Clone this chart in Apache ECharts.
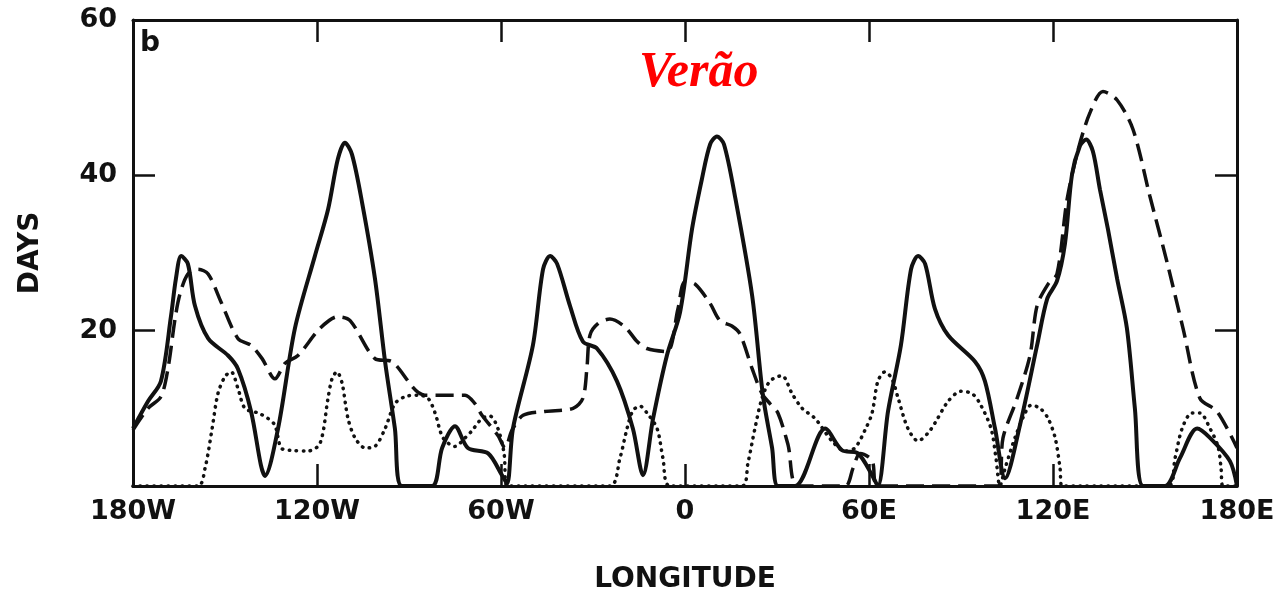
<!DOCTYPE html>
<html>
<head>
<meta charset="utf-8">
<script src="https://cdn.jsdelivr.net/npm/echarts@6/dist/echarts.min.js"></script>
<style>
  html, body { margin: 0; padding: 0; background: #fff; }
  #chart { width: 1280px; height: 599px; }
</style>
</head>
<body>
<div id="chart"></div>
<script>
// Longitude ticks (degrees, negative = west) and their printed labels
const lonTicks = [-180, -120, -60, 0, 60, 120, 180];
const lonLabels = ['180W', '120W', '60W', '0', '60E', '120E', '180E'];
const dayTicks = [0, 20, 40, 60];
const dayLabels = ['', '20', '40', '60'];

// Solid curve: [longitude, days]
const solidCurve = [
  [-180.0, 7.4], [-175.1, 10.9], [-170.9, 13.5], [-167.6, 21.9], [-166.0, 26.7],
  [-164.3, 29.6], [-162.1, 28.6], [-159.8, 23.2], [-155.5, 19.0], [-149.0, 16.8],
  [-145.8, 15.1], [-141.5, 9.6], [-138.3, 2.7], [-137.0, 1.3], [-132.7, 7.4],
  [-127.2, 20.3], [-120.7, 29.6], [-116.4, 35.6], [-113.2, 42.1], [-110.9, 44.2],
  [-108.6, 42.7], [-105.3, 36.5], [-101.1, 26.7], [-97.8, 16.0], [-94.6, 7.4],
  [-92.3, 0], [-82.5, 0], [-79.2, 4.9], [-75.0, 7.7], [-70.8, 4.9],
  [-64.2, 4.2], [-59.7, 1.4], [-58.0, 0.3], [-56.1, 7.4], [-49.6, 18.1],
  [-46.3, 27.9], [-44.0, 29.6], [-41.7, 28.6], [-37.5, 23.2], [-33.3, 18.6],
  [-28.7, 17.7], [-22.2, 13.5], [-17.0, 7.4], [-13.7, 1.4], [-10.4, 8.7],
  [-5.9, 16.8], [-1.6, 22.4], [2.3, 33.1], [5.5, 39.5], [8.2, 44.0],
  [10.4, 45.0], [12.7, 44.0], [16.3, 37.3], [21.9, 24.5], [25.4, 11.7],
  [28.4, 4.9], [30.3, 0], [35.9, 0], [45.7, 7.4], [51.2, 4.6],
  [56.4, 4.2], [61.0, 1.4], [62.9, 0], [66.2, 9.6], [70.4, 18.1],
  [73.7, 27.9], [76.0, 29.6], [78.3, 28.6], [81.5, 22.8], [85.8, 19.4],
  [94.6, 16.0], [97.8, 13.5], [101.1, 7.4], [104.4, 1.0], [109.2, 7.8],
  [114.8, 18.1], [118.1, 24.1], [121.3, 26.4], [123.9, 31.2], [126.2, 40.1],
  [128.8, 43.8], [130.8, 44.6], [133.0, 43.1], [135.3, 38.2], [137.9, 33.1],
  [140.9, 26.7], [144.1, 20.3], [146.7, 10.0], [149.4, 0], [156.5, 0],
  [161.4, 3.6], [167.0, 7.4], [171.2, 6.2], [177.7, 3.2], [180.0, 0]
];

// Dashed curve: [longitude, days]
const dashedCurve = [
  [-180.0, 7.2], [-175.1, 10.0], [-170.9, 11.5], [-168.6, 15.1], [-166.3, 21.5],
  [-164.7, 24.7], [-162.1, 27.3], [-158.8, 27.9], [-155.5, 27.3], [-151.3, 23.7],
  [-145.8, 19.0], [-141.5, 18.1], [-137.9, 16.4], [-133.7, 13.8], [-130.4, 15.8],
  [-126.2, 16.8], [-119.0, 20.3], [-113.2, 21.8], [-109.2, 21.3], [-101.1, 16.4],
  [-95.5, 16.0], [-84.8, 11.7], [-71.7, 11.7], [-68.5, 10.6], [-66.2, 9.1],
  [-61.0, 6.5], [-58.7, 4.9], [-56.4, 7.2], [-52.8, 9.1], [-45.7, 9.6],
  [-36.5, 10.0], [-33.3, 11.3], [-32.0, 15.1], [-31.0, 19.4], [-28.4, 20.9],
  [-24.5, 21.5], [-19.6, 20.5], [-15.6, 18.6], [-12.4, 17.7], [-5.9, 17.3],
  [-2.3, 22.8], [0.0, 26.3], [3.3, 26.0], [8.2, 23.5], [11.4, 21.3],
  [15.3, 20.6], [17.9, 19.6], [21.9, 15.1], [25.1, 11.9], [27.7, 10.6],
  [30.3, 9.4], [33.6, 5.3], [36.8, 0], [52.2, 0], [54.8, 2.3],
  [57.1, 4.2], [61.0, 3.3], [62.9, 0], [102.1, 0], [103.7, 6.2],
  [108.3, 11.3], [112.5, 16.8], [114.8, 23.2], [118.4, 26.0], [121.3, 27.3],
  [124.6, 36.9], [128.2, 43.3], [132.1, 48.1], [136.3, 50.8], [140.9, 49.7],
  [146.1, 45.9], [151.6, 37.3], [157.2, 28.8], [162.4, 20.3], [167.9, 11.3],
  [173.5, 9.6], [180.0, 4.9]
];

// Dotted curve: [longitude, days]
const dottedCurve = [
  [-180.0, 0], [-158.8, 0], [-156.5, 2.3], [-154.2, 7.4], [-152.3, 11.9],
  [-150.0, 14.1], [-148.0, 14.7], [-145.8, 12.6], [-143.5, 10.0], [-139.2, 9.4],
  [-136.0, 8.7], [-133.7, 7.8], [-131.7, 4.9], [-128.8, 4.6], [-122.9, 4.5],
  [-119.0, 5.5], [-116.4, 11.3], [-115.1, 13.8], [-113.5, 14.7], [-111.8, 13.2],
  [-109.9, 8.7], [-107.6, 6.2], [-104.3, 4.9], [-101.1, 5.1], [-97.8, 7.4],
  [-94.6, 10.6], [-91.3, 11.5], [-87.1, 11.7], [-83.8, 11.3], [-81.5, 9.4],
  [-78.9, 6.2], [-75.0, 5.1], [-71.7, 6.2], [-69.5, 7.1], [-66.2, 8.7],
  [-63.6, 9.0], [-61.0, 7.4], [-59.0, 4.2], [-58.0, 0], [-24.5, 0],
  [-21.2, 3.6], [-18.9, 7.4], [-17.0, 9.7], [-14.7, 10.3], [-12.4, 9.4],
  [-9.1, 7.4], [-7.2, 3.6], [-4.9, 0], [18.6, 0], [20.5, 2.9],
  [22.8, 7.4], [25.1, 11.3], [27.7, 13.5], [31.6, 14.2], [34.9, 11.9],
  [38.2, 10.0], [42.4, 8.7], [47.9, 5.8], [52.2, 4.5], [55.4, 4.9],
  [58.7, 7.2], [61.0, 9.4], [62.9, 13.5], [65.2, 14.7], [67.5, 13.8],
  [69.5, 11.3], [72.7, 7.4], [76.0, 5.8], [79.2, 6.8], [81.5, 8.1],
  [85.8, 10.9], [90.0, 12.2], [93.6, 11.9], [96.2, 10.6], [99.8, 7.4],
  [101.4, 3.6], [102.7, 0], [104.4, 2.3], [107.6, 6.2], [110.9, 9.4],
  [112.8, 10.4], [115.8, 10.0], [118.4, 8.7], [120.7, 6.2], [122.3, 2.3],
  [122.9, 0], [157.5, 0], [159.8, 3.6], [162.1, 7.4], [165.3, 9.4],
  [167.9, 9.4], [171.2, 7.4], [173.8, 5.1], [174.8, 2.3], [175.4, 0],
  [180.0, 0]
];

const FONT = 'DejaVu Sans';
const INK = '#111';

// Frame axes sit above the curves so runs along zero merge into the axis line
function lonAxis(position, withLabels) {
  return {
    type: 'value', position: position, z: 5,
    min: lonTicks[0], max: lonTicks[lonTicks.length - 1], interval: 60,
    axisLine: { show: true, onZero: false, lineStyle: { color: INK, width: 3 } },
    axisTick: { show: true, inside: true, length: 22, lineStyle: { color: INK, width: 2.5 } },
    splitLine: { show: false },
    axisLabel: withLabels ? {
      show: true, margin: 12, color: INK,
      fontFamily: FONT, fontWeight: 'bold', fontSize: 27,
      formatter: v => lonLabels[lonTicks.indexOf(v)]
    } : { show: false },
    name: withLabels ? 'LONGITUDE' : '',
    nameLocation: 'middle', nameGap: 80,
    nameTextStyle: { color: INK, fontFamily: FONT, fontWeight: 'bold', fontSize: 28 }
  };
}

function dayAxis(position, withLabels) {
  return {
    type: 'value', position: position, z: 5,
    min: dayTicks[0], max: dayTicks[dayTicks.length - 1], interval: 20,
    axisLine: { show: true, onZero: false, lineStyle: { color: INK, width: 3 } },
    axisTick: { show: true, inside: true, length: 22, lineStyle: { color: INK, width: 2.5 } },
    splitLine: { show: false },
    axisLabel: withLabels ? {
      show: true, margin: 16, color: INK,
      fontFamily: FONT, fontWeight: 'bold', fontSize: 27,
      formatter: v => dayLabels[dayTicks.indexOf(v)]
    } : { show: false },
    name: withLabels ? 'DAYS' : '',
    nameLocation: 'middle', nameGap: 88, nameRotate: 90,
    nameTextStyle: { color: INK, fontFamily: FONT, fontWeight: 'bold', fontSize: 28 }
  };
}

function curve(data, lineStyle) {
  return {
    type: 'line', data: data, xAxisIndex: 0, yAxisIndex: 0, z: 2,
    showSymbol: false, symbol: 'none', smooth: 0.3, clip: true,
    lineStyle: Object.assign({ color: INK }, lineStyle),
    silent: true, animation: false
  };
}

const chart = echarts.init(document.getElementById('chart'), null, { renderer: 'canvas' });
chart.setOption({
  backgroundColor: '#fff',
  animation: false,
  grid: { left: 133, right: 43, top: 20, bottom: 111 },
  xAxis: [lonAxis('bottom', true), lonAxis('top', false)],
  yAxis: [dayAxis('left', true), dayAxis('right', false)],
  series: [
    curve(dottedCurve, { width: 3.5, type: [0.5, 6.5], cap: 'round' }),
    curve(dashedCurve, { width: 3.5, type: [18, 8] }),
    curve(solidCurve, { width: 4, type: 'solid' })
  ],
  graphic: [
    {
      type: 'text', left: 140, top: 30,
      style: { text: 'b', fill: INK, font: 'bold 28px "DejaVu Sans"' }
    },
    {
      type: 'text', left: 639, top: 48,
      style: { text: 'Verão', fill: '#ff0000', font: 'italic bold 50px "Liberation Serif"' }
    }
  ]
});
</script>
</body>
</html>
